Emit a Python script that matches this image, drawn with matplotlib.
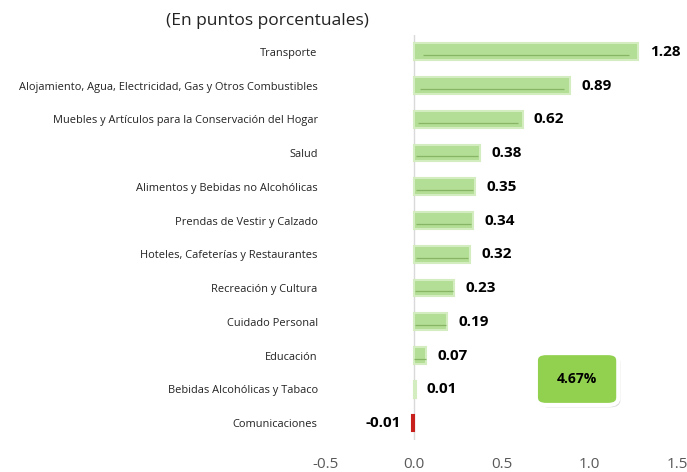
import matplotlib.pyplot as plt
from matplotlib.patches import FancyBboxPatch

# Data
categorias = [
    'Transporte',
    'Alojamiento, Agua, Electricidad, Gas y Otros Combustibles',
    'Muebles y Artículos para la Conservación del Hogar',
    'Salud',
    'Alimentos y Bebidas no Alcohólicas',
    'Prendas de Vestir y Calzado',
    'Hoteles, Cafeterías y Restaurantes',
    'Recreación y Cultura',
    'Cuidado Personal',
    'Educación',
    'Bebidas Alcohólicas y Tabaco',
    'Comunicaciones',
]
valores = [1.28, 0.89, 0.62, 0.38, 0.35, 0.34, 0.32, 0.23, 0.19, 0.07, 0.01, -0.01]
total = '4.67%'

plt.rcParams['font.family'] = ['Open Sans', 'DejaVu Sans']

fig = plt.figure(figsize=(6.87, 4.72), dpi=100)
ax = fig.add_axes([0.4745, 0.068, 0.511, 0.858])

pos = list(range(len(categorias)))
colores = ['#b3de95' if v >= 0 else '#e8706c' for v in valores]
bordes = ['#d3edc1' if v >= 0 else '#c8211d' for v in valores]
ax.barh(pos, valores, height=0.5, color=colores, edgecolor=bordes, linewidth=1.5, zorder=3)

# bevel: dark line along the lower part of each bar
for p, v in zip(pos, valores):
    if abs(v) > 0.03:
        ax.hlines(p + 0.1, v * 0.04, v * 0.96, color='#86b665', linewidth=0.9, zorder=4)

for p, v in zip(pos, valores):
    if v >= 0:
        ax.text(v + 0.065, p, f'{v:.2f}', va='center', ha='left', fontsize=11,
                fontweight='bold', color='black')
    else:
        ax.text(v - 0.065, p, f'{v:.2f}', va='center', ha='right', fontsize=11,
                fontweight='bold', color='black')

ax.axvline(0, color='#d9d9d9', linewidth=1, zorder=1)
ax.set_xlim(-0.5, 1.5)
ax.set_ylim(11.5, -0.5)
ax.set_xticks([-0.5, 0.0, 0.5, 1.0, 1.5])
ax.set_xticklabels(['-0.5', '0.0', '0.5', '1.0', '1.5'], fontsize=11, color='#595959')
ax.set_yticks(pos)
ax.set_yticklabels(categorias, fontsize=7.9, color='#222222')
ax.tick_params(axis='both', length=0)
ax.tick_params(axis='y', pad=6)
ax.tick_params(axis='x', pad=12)
for s in ax.spines.values():
    s.set_visible(False)

fig.text(0.39, 0.956, '(En puntos porcentuales)', ha='center', va='center', fontsize=12.5,
         color='#222222')

# total box
sombra = FancyBboxPatch((0.789, 0.143), 0.108, 0.098, boxstyle='round,pad=0.006,rounding_size=0.015',
                        transform=fig.transFigure, facecolor='#bfbfbf', edgecolor='none', alpha=0.6)
caja = FancyBboxPatch((0.786, 0.148), 0.108, 0.098, boxstyle='round,pad=0.006,rounding_size=0.015',
                      transform=fig.transFigure, facecolor='#92d050', edgecolor='white', linewidth=3)
fig.patches.extend([sombra, caja])
fig.text(0.840, 0.197, total, ha='center', va='center', fontsize=10, fontweight='bold', color='black')

fig.savefig('out.png', dpi=100)
